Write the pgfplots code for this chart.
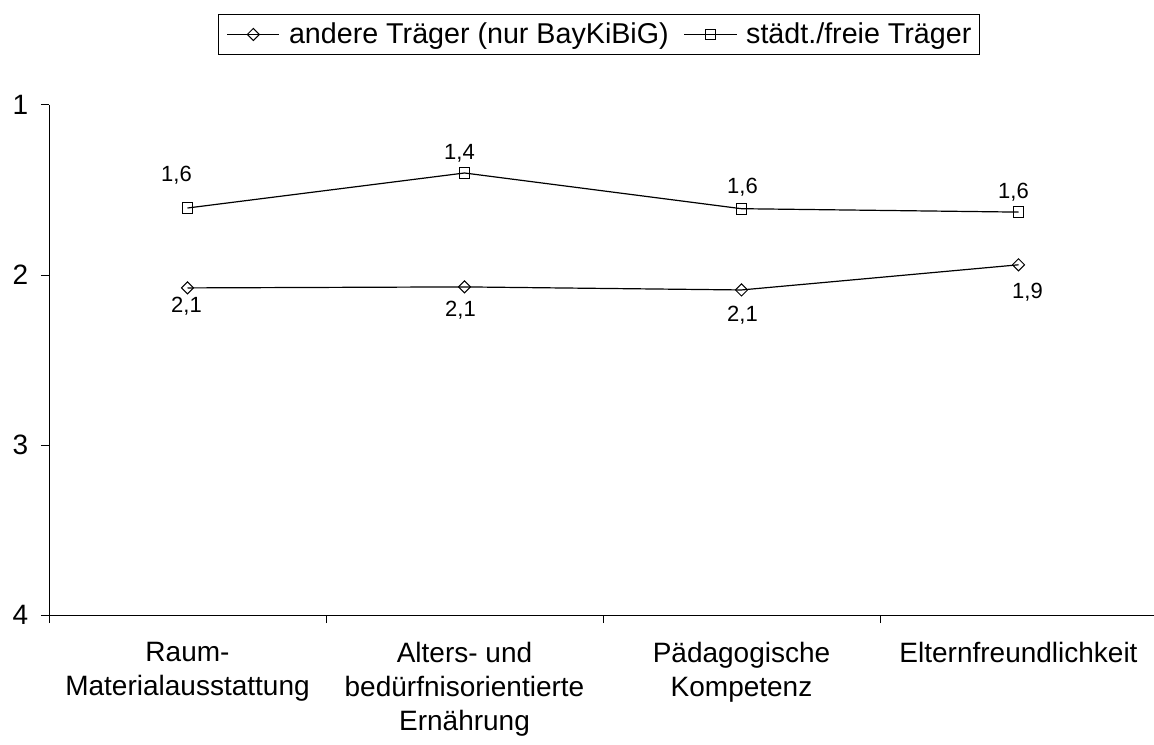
\documentclass[border=0pt]{standalone}
\usepackage{fontspec}
\setmainfont{Liberation Sans}
\usepackage{pgfplots}
\usepackage{pgfplotstable}
\pgfplotsset{compat=1.18}

\pgfplotstableread{
x y lab dx dy
0 1.606 1,6 -8.25 20.25
1 1.40 1,4 -3.75 9.75
2 1.61 1,6 0.75 11.25
3 1.63 1,6 -3.75 10.5
}\staedt
\pgfplotstableread{
x y lab dx dy
0 2.076 2,1 -0.75 -18.75
1 2.07 2,1 -3 -22.5
2 2.088 2,1 0.75 -24
3 1.94 1,9 6.75 -25.5
}\andere

\begin{document}
\begin{tikzpicture}
\useasboundingbox (-36.75pt,-97.5pt) rectangle (828.75pt,461.25pt);
\begin{axis}[
  at={(0,0)}, anchor=south west,
  scale only axis, width=831pt, height=382.5pt,
  xmin=-0.5, xmax=3.5, ymin=1, ymax=4, y dir=reverse,
  axis x line=bottom, axis y line=left,
  axis line style={-, line width=0.75pt},
  tick align=outside, major tick length=6pt,
  tick style={black, line width=0.75pt},
  xtick={-0.5,0.5,1.5,2.5,3.5},
  x tick label as interval,
  xticklabels={{Raum-\\Materialausstattung},{Alters- und\\bedürfnisorientierte\\Ernährung},{Pädagogische\\Kompetenz},{Elternfreundlichkeit}},
  xticklabel style={align=center, font=\fontsize{21}{25.5}\selectfont, yshift=-11pt},
  ytick={1,2,3,4},
  yticklabel style={font=\fontsize{21}{25}\selectfont, xshift=-6pt},
  /pgf/number format/assume math mode=true,
  legend style={at={(0.5,1)}, anchor=south, yshift=37.5pt, xshift=-3pt,
    legend columns=2, draw=black, line width=0.75pt,
    font=\fontsize{21.5}{25}\selectfont, inner xsep=6pt, inner ysep=6.5pt,
    nodes={inner sep=0pt},
    /tikz/every odd column/.append style={column sep=6.75pt},
    /tikz/every even column/.append style={column sep=11.25pt}},
  legend image code/.code={\draw[#1, mark repeat=2, mark phase=2] plot coordinates {(0cm,0cm) (0.688cm,0cm) (1.376cm,0cm)};},
  nodes near coords={\pgfplotspointmeta},
  point meta=explicit symbolic,
  every node near coord/.append style={font=\fontsize{16.5}{20}\selectfont, text=black, anchor=base},
]
\addplot[black, line width=0.9pt, mark=square, mark size=3.2pt, mark options={rotate=45, line width=0.75pt, fill=white},
  visualization depends on={\thisrow{dx} \as \dx},
  visualization depends on={\thisrow{dy} \as \dy},
  every node near coord/.append style={xshift=\dx, yshift=\dy}]
  table[x=x, y=y, meta=lab] {\andere};
\addlegendentry{andere Träger (nur BayKiBiG)}
\addplot[black, line width=0.9pt, mark=square, mark size=4pt, mark options={line width=0.75pt, fill=white},
  visualization depends on={\thisrow{dx} \as \dx},
  visualization depends on={\thisrow{dy} \as \dy},
  every node near coord/.append style={xshift=\dx, yshift=\dy}]
  table[x=x, y=y, meta=lab] {\staedt};
\addlegendentry{städt./freie Träger}
\end{axis}
\end{tikzpicture}
\end{document}
